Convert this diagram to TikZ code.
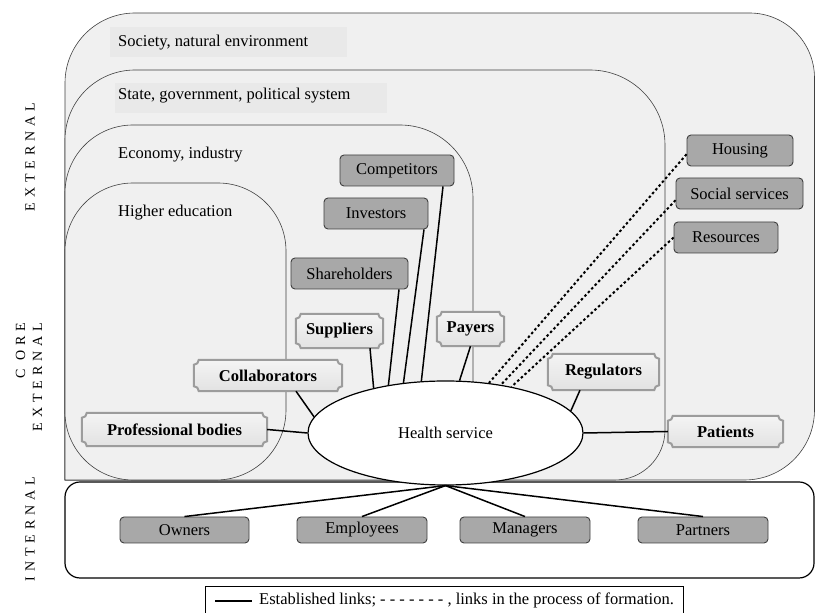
\documentclass[tikz,border=0pt]{standalone}
\usepackage{fontspec}
\setmainfont{Liberation Serif}
\usetikzlibrary{calc,shapes.geometric}

\definecolor{regionfill}{HTML}{F0F0F0}
\definecolor{labelfill}{HTML}{E9E9E9}
\definecolor{boxgray}{HTML}{A8A8A8}
\definecolor{plaquetop}{HTML}{F4F4F4}
\definecolor{plaquebottom}{HTML}{E2E2E2}
\definecolor{plaqueline}{HTML}{9C9C9C}

\newcommand{\labelfont}{\fontsize{16.5}{19}\selectfont}
\newcommand{\sidefont}{\fontsize{14}{17}\selectfont\addfontfeature{LetterSpace=35}}

\pgfdeclarelayer{regions}
\pgfdeclarelayer{frames}
\pgfsetlayers{regions,frames,main}

\tikzset{
	region/.style={fill=regionfill, draw=black!75, line width=0.6pt},
	regionlabel/.style={anchor=west, inner sep=0pt, font=\labelfont},
	darkbox/.style={draw=black!75, fill=boxgray, rounded corners=4pt, line width=0.9pt,
		minimum height=31pt, inner sep=0pt, font=\labelfont},
	plaque/.style={inner sep=0pt, font=\labelfont\bfseries},
	plaqueborder/.style={draw=plaqueline, top color=plaquetop, bottom color=plaquebottom, line width=2pt},
	link/.style={line width=1.5pt},
	forming/.style={line width=2pt, dash pattern=on 2.5pt off 2.5pt},
	sidelabel/.style={rotate=90, align=right, inner sep=0pt, font=\sidefont}
}

% Rahmen mit eingezogenen Ecken
\newcommand{\plaqueframe}[1]{%
	\draw[plaqueborder] ($(#1.north west)+(0,-5pt)$) arc[start angle=-90, end angle=0, radius=5pt]
		-- ($(#1.north east)+(-5pt,0)$) arc[start angle=180, end angle=270, radius=5pt]
		-- ($(#1.south east)+(0,5pt)$) arc[start angle=90, end angle=180, radius=5pt]
		-- ($(#1.south west)+(5pt,0)$) arc[start angle=0, end angle=90, radius=5pt] -- cycle;}

\begin{document}
\begin{tikzpicture}[x=1pt, y=1pt]

		\useasboundingbox (0,0) rectangle (815,613);
		\clip (0,0) rectangle (815,613);

		%Bereiche (Gesellschaft, Staat, Wirtschaft, Hochschule)
		\begin{pgfonlayer}{regions}
			\draw[region] (65,133) -- (65,530) arc[start angle=180, end angle=90, radius=70]
				-- (749.5,600) arc[start angle=90, end angle=0, radius=65]
				-- (814.5,203) arc[start angle=0, end angle=-90, radius=70] -- cycle;
			\fill[labelfill] (110,556) rectangle (347,586);

			\draw[region] (65,133) -- (65,473) arc[start angle=180, end angle=90, radius=70]
				-- (590,543) arc[start angle=90, end angle=0, radius=75]
				-- (665,183) arc[start angle=0, end angle=-90, radius=50] -- cycle;
			\fill[labelfill] (115,500) rectangle (387,530);

			\draw[region] (65,133) -- (65,420) arc[start angle=180, end angle=90, radius=68]
				-- (400,488) arc[start angle=90, end angle=0, radius=73]
				-- (473,183) arc[start angle=0, end angle=-90, radius=50] -- cycle;

			\draw[region] (65,201) -- (65,362) arc[start angle=180, end angle=90, radius=68]
				-- (218,430) arc[start angle=90, end angle=0, radius=68]
				-- (286,203) arc[start angle=0, end angle=-90, radius=70]
				-- (133,133) arc[start angle=-90, end angle=-180, radius=68] -- cycle;

			%Interner Bereich
			\draw[fill=white, line width=1.2pt, rounded corners=15pt] (65,35) rectangle (814,131);
		\end{pgfonlayer}

		\node[regionlabel] (society) at (118,570) {Society, natural environment};
		\node[regionlabel] (state) at (118,517) {State, government, political system};
		\node[regionlabel] (economy) at (118,458) {Economy, industry};
		\node[regionlabel] (higher) at (118,400) {Higher education};

		%Seitenbeschriftung
		\node[sidelabel] (ext) at (30,456) {EXTERNAL};
		\node[sidelabel] (core) at (29,236) {C ORE\\EXTERNAL};
		\node[sidelabel] (int) at (30,84) {INTERNAL};

		%Zentrum
		\node[ellipse, draw, fill=white, line width=1.2pt, minimum width=275pt, minimum height=104pt,
			inner sep=0pt, font=\labelfont] (hs) at (445.5,180) {Health service};

		%graue Kaesten
		\node[darkbox, minimum width=114pt] (comp) at (397,442.5) {Competitors};
		\node[darkbox, minimum width=104pt] (inv) at (376,399.5) {Investors};
		\node[darkbox, minimum width=117pt] (shar) at (349.5,339.5) {Shareholders};
		\node[darkbox, minimum width=106pt] (hous) at (740,462.5) {Housing};
		\node[darkbox, minimum width=127pt] (soc) at (739.5,419.5) {Social services};
		\node[darkbox, minimum width=104pt] (res) at (726,375.5) {Resources};

		\node[darkbox, minimum width=129pt, minimum height=26pt] (own) at (184.5,83) {Owners};
		\node[darkbox, minimum width=130pt, minimum height=26pt] (emp) at (362,83) {Employees};
		\node[darkbox, minimum width=130pt, minimum height=26pt] (man) at (525,83) {Managers};
		\node[darkbox, minimum width=130pt, minimum height=26pt] (par) at (703,83) {Partners};

		%helle Kaesten
		\node[plaque, minimum width=87pt, minimum height=34pt] (sup) at (339.5,282) {Suppliers};
		\node[plaque, minimum width=148pt, minimum height=31pt] (col) at (268,237.5) {Collaborators};
		\node[plaque, minimum width=185pt, minimum height=33pt] (prof) at (174.5,183.5) {Professional bodies};
		\node[plaque, minimum width=67pt, minimum height=34pt] (pay) at (470.5,284) {Payers};
		\node[plaque, minimum width=111pt, minimum height=36pt] (reg) at (603.5,241) {Regulators};
		\node[plaque, minimum width=115pt, minimum height=31pt] (pat) at (725.5,181.5) {Patients};

		\begin{pgfonlayer}{frames}
			\foreach \n in {sup,col,prof,pay,reg,pat} {\plaqueframe{\n}}
		\end{pgfonlayer}

		%Verbindungen
		\draw[link] ([xshift=46pt]comp.south) -- (hs.115.7);
		\draw[link] ([xshift=48pt]inv.south) -- (hs.130);
		\draw[link] ([xshift=49.5pt]shar.south) -- (hs.140);
		\draw[link] ([xshift=30.5pt]sup.south) -- (hs.148);
		\draw[link] (pay.south) -- (hs.75);
		\draw[link] ([xshift=28pt]col.south) -- (hs.173.5);
		\draw[link] (prof.east) -- (hs.west);
		\draw[link] ([xshift=-23.5pt]reg.south) -- (hs.10);
		\draw[link] (pat.west) -- (hs.east);

		\draw[forming] (hous.184) -- (hs.49);
		\draw[forming] (soc.186) -- (hs.41);
		\draw[forming] (res.west) -- (hs.35);

		\foreach \n in {own,emp,man,par} {\draw[link] (hs.south) -- (\n.north);}

		%Legende
		\draw[line width=1pt] (205,-2) rectangle (683,26);
		\coordinate (legA) at (215,12);
		\coordinate (legB) at (252,12);
		\draw[link] (legA) -- (legB);
		\node[anchor=west, inner sep=0pt, font=\labelfont] (legtext) at (259,13)
			{Established links; - - - - - - - , links in the process of formation.};

\end{tikzpicture}
\end{document}
